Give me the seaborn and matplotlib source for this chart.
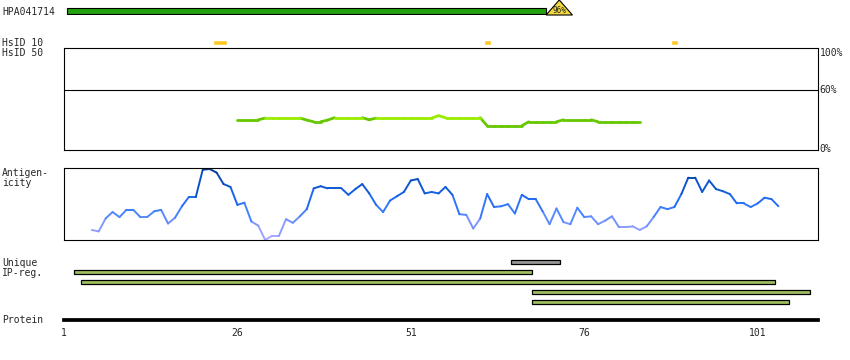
import numpy as np
import pandas as pd
import seaborn as sns
import matplotlib
matplotlib.use("Agg")
import matplotlib.pyplot as plt

sns.set_style("white")
plt.rcParams['font.family'] = ['DejaVu Sans Mono']
plt.rcParams['font.size'] = 7

# ---- values (x = residue position) ----
antibody_name = "HPA041714"
antibody_start = 1.5
antibody_end = 70.5
antibody_identity = "96%"

hsid10_start = [22.5, 61.5, 88.5]
hsid10_len = [2.0, 1.0, 1.0]

ident_pos = list(range(26, 85))
ident_val = ([30.3] * 4 + [32.0] * 6 + [30.0] + [28.3] * 2 + [30.0] + [32.4] * 5 +
             [30.3] + [32.0] * 9 + [34.4] + [32.4] * 6 + [24.3] * 6 + [28.3] * 5 +
             [30.3] * 5 + [28.3] * 7)

antig_pos = list(range(5, 105))
antig_val = [14, 12, 30, 39, 32, 42, 42, 32, 32, 40,
             42, 23, 31, 47, 60, 60, 98, 99, 94, 78,
             74, 49, 52, 26, 20, 0, 6, 6, 29, 24,
             33, 43, 72, 75, 72, 72, 72, 63, 71, 78,
             65, 49, 39, 55, 61, 67, 83, 85, 65, 67,
             65, 74, 63, 36, 35, 16, 30, 64, 46, 47,
             50, 37, 63, 57, 57, 40, 22, 44, 25, 22,
             45, 32, 33, 22, 27, 33, 18, 18, 19, 14,
             19, 32, 46, 43, 46, 64, 87, 87, 67, 83,
             71, 68, 64, 51, 51, 46, 51, 59, 57, 47]

unique_start = [65.5]
unique_end = [72.5]

ipreg_start = [2.5, 3.4, 68.5, 68.5]
ipreg_end = [68.5, 103.5, 108.5, 105.5]

protein_ticks = [1, 26, 51, 76, 101]
protein_end = 109.7

# ---- layout (pixels of an 850x360 canvas) ----
W, H = 850, 360
L, R = 64, 818
fig = plt.figure(figsize=(W / 100, H / 100), dpi=100)


def px_axes(top, bottom):
    ax = fig.add_axes([L / W, 1 - bottom / H, (R - L) / W, (bottom - top) / H])
    ax.set_xlim(1, protein_end)
    ax.set_xticks([])
    ax.set_yticks([])
    return ax


def label(ypx, s):
    fig.text(2 / W, 1 - ypx / H, s, va='center', ha='left', fontsize=7)


def segments(pos, val):
    rows = []
    for i in range(len(pos) - 1):
        lvl = (val[i] + val[i + 1]) / 2
        rows.append((pos[i], val[i], i, lvl))
        rows.append((pos[i + 1], val[i + 1], i, lvl))
    return pd.DataFrame(rows, columns=["pos", "val", "seg", "level"])


# antibody bar with identity triangle
ax = px_axes(0, 15)
ax.set_ylim(0, 1)
ax.axis('off')
ax.barh(0.25, antibody_end - antibody_start, left=antibody_start, height=0.38,
        color='#22a010', edgecolor='black', linewidth=0.8)
tri_w = 3.8
ax.fill([antibody_end, antibody_end + tri_w, antibody_end + tri_w / 2],
        [0, 0, 1], facecolor='#f2d840', edgecolor='black', linewidth=0.8, clip_on=False)
ax.text(antibody_end + tri_w / 2, 0.3, antibody_identity, ha='center', va='center', fontsize=5.5)

# HsID 10 marks
ax = px_axes(39.5, 45)
ax.set_ylim(0, 1)
ax.axis('off')
ax.broken_barh(list(zip(hsid10_start, hsid10_len)), (0, 1), facecolor='#ffc820')

# identity panel
ax = px_axes(48.3, 150)
ax.set_ylim(0, 102)
for s in ax.spines.values():
    s.set_linewidth(0.8)
    s.set_color('black')
ax.axhline(60, color='black', lw=0.8)
idf = segments(ident_pos, ident_val)
idf["band"] = np.where(idf["level"] >= 31.5, "hi", "lo")
sns.lineplot(data=idf, x="pos", y="val", hue="band", units="seg", estimator=None,
             palette={"hi": "#99ee00", "lo": "#66c800"}, legend=False, lw=2.0,
             solid_capstyle='round', ax=ax)
ax.set_xlabel("")
ax.set_ylabel("")
for yv, s in [(97, "100%"), (60, "60%"), (1, "0%")]:
    ax.text(1.002, yv, s, transform=ax.get_yaxis_transform(), va='center', ha='left', fontsize=7)

# antigenicity panel
ax = px_axes(168.3, 240)
ax.set_ylim(0, 100)
for s in ax.spines.values():
    s.set_linewidth(0.8)
    s.set_color('black')
adf = segments(antig_pos, antig_val)
cmap = sns.blend_palette(["#b4aaff", "#8899ff", "#4080ff", "#1a66ee", "#0a52c4", "#003a8c"],
                         as_cmap=True)
sns.lineplot(data=adf, x="pos", y="val", hue="level", units="seg", estimator=None,
             palette=cmap, hue_norm=(0, 100), legend=False, lw=1.4,
             solid_capstyle='round', ax=ax)
for ln in ax.lines:
    ln.set_clip_on(False)
ax.set_xlabel("")
ax.set_ylabel("")

# unique + IP-reg bars
ax = px_axes(257.3, 307.3)
ax.set_ylim(4.5, -0.5)
ax.axis('off')
ax.barh([0], np.subtract(unique_end, unique_start), left=unique_start, height=0.4,
        color='#999999', edgecolor='black', linewidth=0.9)
ax.barh(np.arange(1, len(ipreg_start) + 1), np.subtract(ipreg_end, ipreg_start),
        left=ipreg_start, height=0.4, color='#a0c060', edgecolor='black', linewidth=0.9)

# protein axis
ax = px_axes(310, 320)
for k in ['top', 'left', 'right']:
    ax.spines[k].set_visible(False)
ax.spines['bottom'].set_linewidth(2.7)
ax.spines['bottom'].set_color('black')
ax.set_xticks(protein_ticks)
ax.set_xticklabels([str(t) for t in protein_ticks], fontsize=7)
ax.tick_params(axis='x', direction='out', length=3.5, width=1.2, pad=2, color='black')
ax.patch.set_alpha(0)

# row labels
label(12, antibody_name)
label(42.5, "HsID 10")
label(52.7, "HsID 50")
label(173.3, "Antigen-")
label(183.3, "icity")
label(262.7, "Unique")
label(273, "IP-reg.")
label(320, "Protein")

fig.savefig("out.png", dpi=100)
